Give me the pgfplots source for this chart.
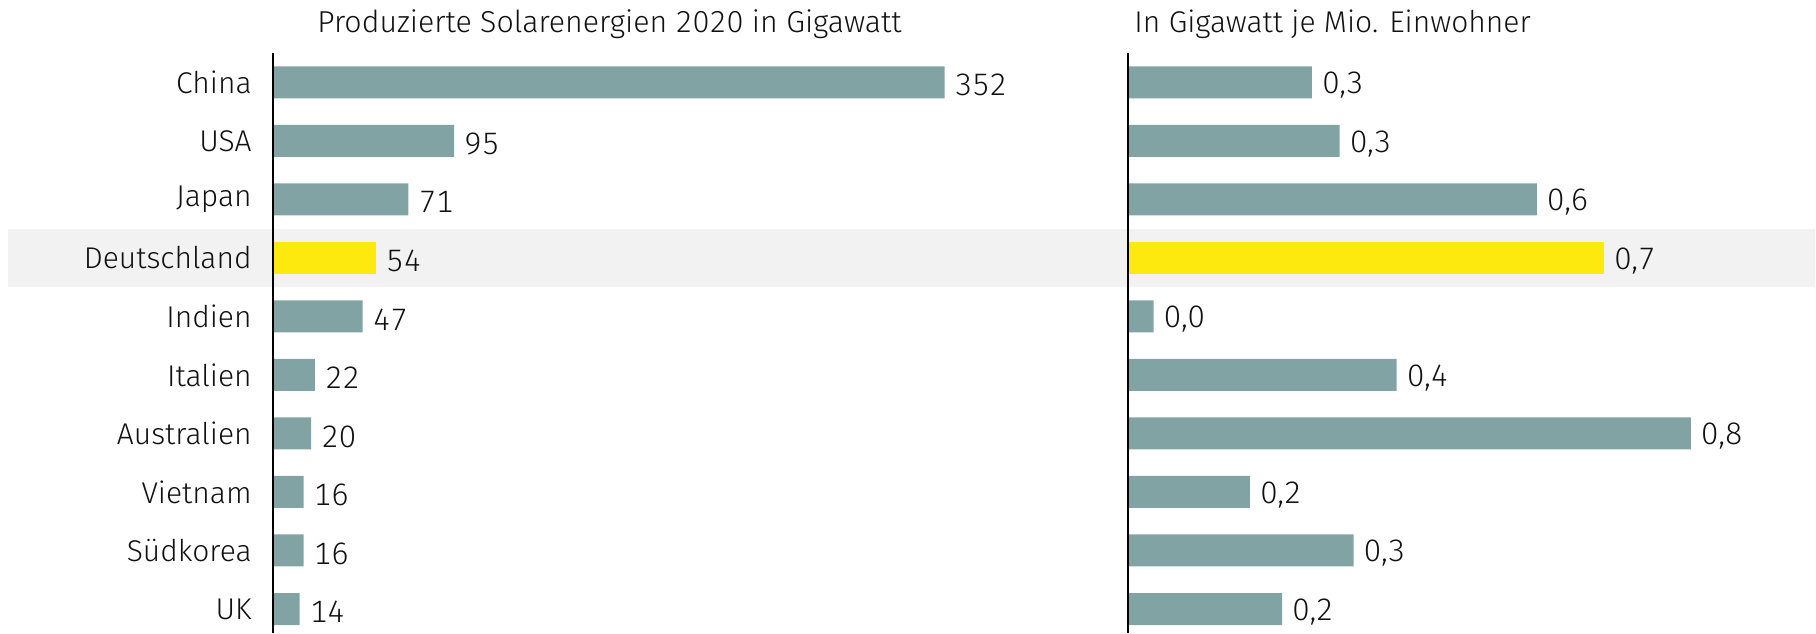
\documentclass[border=0pt]{standalone}
\usepackage{fontspec}
\setmainfont{Fira Sans Light}[Numbers=Monospaced]
\usepackage{pgfplots}
\pgfplotsset{compat=1.18}
\definecolor{barc}{HTML}{82A3A3}
\definecolor{hl}{HTML}{FDE90E}
\definecolor{band}{HTML}{F2F2F2}
\definecolor{txt}{HTML}{111111}
\pgfplotsset{
  common/.style={
    anchor=south west, scale only axis, height=290pt,
    ymin=-0.5, ymax=9.41, y dir=reverse,
    xbar, bar width=16pt,
    axis x line=none, axis y line*=left,
    y axis line style={-, line width=0.8pt, black},
    major tick length=0pt,
    clip=false, axis on top,
    point meta=explicit symbolic,
    nodes near coords={\pgfplotspointmeta},
    nodes near coords style={anchor=west, inner sep=0pt, xshift=5pt, yshift=-1.5pt, text=txt, font=\fontsize{15.5}{18}\selectfont},
  }
}
\begin{document}
\begin{tikzpicture}[font=\fontsize{15}{18}\selectfont]
\path[use as bounding box] (0,0) rectangle (908pt,316.5pt);
\node[anchor=base west, inner sep=0pt, text=txt, font=\fontsize{15.15}{18}\selectfont] at (158.5pt,300pt) {Produzierte Solarenergien 2020 in Gigawatt};
\node[anchor=base west, inner sep=0pt, text=txt, font=\fontsize{15}{18}\selectfont] at (567pt,300pt) {In Gigawatt je Mio. Einwohner};
\begin{axis}[common, at={(136.5pt,0pt)}, width=362.5pt, xmin=0, xmax=380,
  ytick={0,...,9},
  yticklabels={China,USA,Japan,Deutschland,Indien,Italien,Australien,Vietnam,Südkorea,UK},
  yticklabel style={inner sep=0pt, text=txt, font=\fontsize{15}{18}\selectfont},
  yticklabel shift=10.5pt]
\fill[band] (axis cs:-138.8,2.5) rectangle (axis cs:808,3.5);
\addplot[fill=barc, draw=none, bar shift=0pt] table[x=v, y=i, meta=l] {
i v l
0 352 352
1 95 95
2 71 71
4 47 47
5 22 22
6 20 20
7 16 16
8 16 16
9 14 14
};
\addplot[fill=hl, draw=none, bar shift=0pt] table[x=v, y=i, meta=l] {
i v l
3 54 54
};
\end{axis}
\begin{axis}[common, at={(564pt,0pt)}, width=344pt, xmin=0, xmax=0.9425, ytick=\empty]
\addplot[fill=barc, draw=none, bar shift=0pt] table[x=v, y=i, meta=l] {
i v l
0 0.252 0,3
1 0.290 0,3
2 0.560 0,6
4 0.035 0,0
5 0.368 0,4
6 0.771 0,8
7 0.167 0,2
8 0.309 0,3
9 0.211 0,2
};
\addplot[fill=hl, draw=none, bar shift=0pt] table[x=v, y=i, meta=l] {
i v l
3 0.652 0,7
};
\end{axis}
\end{tikzpicture}
\end{document}
